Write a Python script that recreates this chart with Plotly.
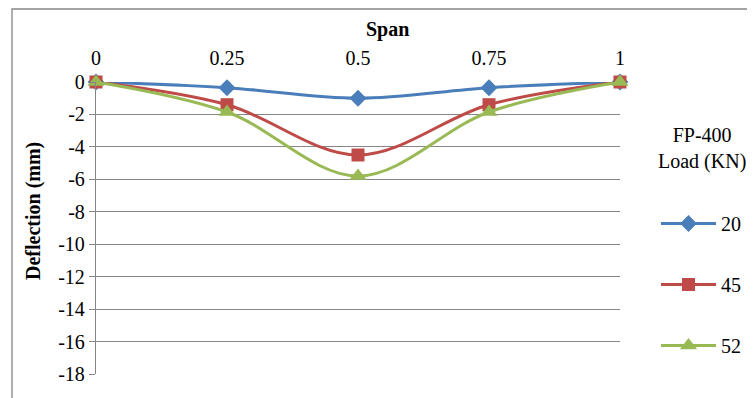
import plotly.graph_objects as go

span = [0, 0.25, 0.5, 0.75, 1]
load_20 = [0, -0.35, -1.0, -0.35, 0]
load_45 = [0, -1.4, -4.5, -1.4, 0]
load_52 = [0, -1.85, -5.8, -1.85, 0]
series_names = ["20", "45", "52"]
x_ticks = [0, 0.25, 0.5, 0.75, 1]
x_tick_labels = ["0", "0.25", "0.5", "0.75", "1"]
y_ticks = list(range(0, -20, -2))
y_tick_labels = [str(v) for v in y_ticks]
legend_title = "FP-400<br>Load (KN)"
x_title = "<b>Span</b>"
y_title = "<b>Deflection (mm)</b>"

FONT = "Liberation Serif, Times New Roman, serif"
colors = ["#4A7EBB", "#BE4B48", "#98B954"]
symbols = ["diamond", "square", "triangle-up"]
sizes = [13, 13, 15]

# page body has an 8px margin: work in screen pixels, convert to figure pixels
OFF = 8
W, H = 755 - OFF, 398 - OFF
L = 96 - OFF
T = 82 - OFF
R = W - (620 - OFF)
B = H - (374 - OFF)
pw = W - L - R
ph = H - T - B


def px_x(p):
    return (p - OFF - L) / pw


def px_y(p):
    return 1 - (p - OFF - T) / ph


fig = go.Figure()
for i, (name, vals) in enumerate(zip(series_names, [load_20, load_45, load_52])):
    fig.add_trace(go.Scatter(
        x=span, y=vals, name=name, mode="lines+markers",
        line=dict(color=colors[i], width=3, shape="spline", smoothing=1.0),
        marker=dict(symbol=symbols[i], size=sizes[i], color=colors[i]),
        cliponaxis=False, legendgroup=name,
    ))

fig.update_layout(
    width=W, height=H,
    margin=dict(l=L, r=R, t=T, b=B, autoexpand=False),
    paper_bgcolor="white", plot_bgcolor="white",
    font=dict(family=FONT, size=20, color="black"),
    showlegend=True,
    legend=dict(
        x=px_x(656), xanchor="left", y=px_y(204), yanchor="top",
        tracegroupgap=32, traceorder="grouped", itemwidth=55,
        font=dict(family=FONT, size=20, color="black"), bgcolor="rgba(0,0,0,0)",
    ),
    xaxis=dict(
        side="top", range=[0, 1], tickvals=x_ticks, ticktext=x_tick_labels,
        showgrid=False, zeroline=False, showline=False,
        ticks="outside", ticklen=8, tickcolor="rgba(0,0,0,0)",
        automargin=False,
        tickfont=dict(family=FONT, size=20, color="black"),
    ),
    yaxis=dict(
        range=[-18, 0], tickvals=y_ticks, ticktext=y_tick_labels,
        showgrid=True, gridcolor="#868686",
        gridwidth=1.3, zeroline=False, showline=True, linecolor="#868686",
        linewidth=1.3, ticks="outside", ticklen=6, tickcolor="#868686",
        automargin=False,
        tickfont=dict(family=FONT, size=20, color="black"),
    ),
    annotations=[
        dict(text=legend_title, xref="paper", yref="paper",
             x=px_x(702), y=px_y(148), xanchor="center", yanchor="middle",
             showarrow=False, align="center",
             font=dict(family=FONT, size=20, color="black")),
        dict(text=x_title, xref="paper", yref="paper",
             x=px_x(387), y=px_y(30), xanchor="center", yanchor="middle",
             showarrow=False, font=dict(family=FONT, size=20, color="black")),
        dict(text=y_title, xref="paper", yref="paper", textangle=-90,
             x=px_x(33), y=px_y(211), xanchor="center", yanchor="middle",
             showarrow=False, font=dict(family=FONT, size=20, color="black")),
    ],
    shapes=[dict(
        type="rect", xref="paper", yref="paper",
        x0=px_x(12), x1=px_x(760),
        y0=px_y(404), y1=px_y(9),
        line=dict(color="#868686", width=1.3), fillcolor="rgba(0,0,0,0)",
        layer="below",
    )],
)

fig.write_html("out.html")
